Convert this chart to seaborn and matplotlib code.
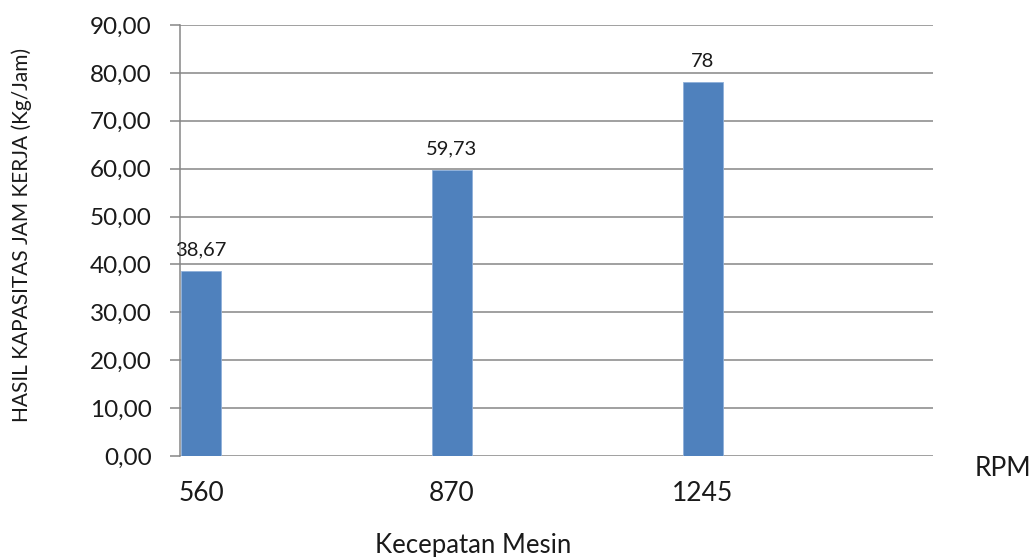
import pandas as pd
import seaborn as sns
import matplotlib
matplotlib.use("Agg")
import matplotlib.pyplot as plt
from matplotlib.ticker import FuncFormatter

# Data
speeds = ["560", "870", "1245"]
capacity = [38.67, 59.73, 78.0]
value_labels = ["38,67", "59,73", "78"]
y_ticks = [0, 10, 20, 30, 40, 50, 60, 70, 80, 90]

sns.set_theme(style="white")
plt.rcParams['font.family'] = ['Lato', 'DejaVu Sans']

W, H = 1034, 557
fig = plt.figure(figsize=(W / 100, H / 100), dpi=100)
ax = fig.add_axes([180 / W, 101 / H, 753 / W, 431 / H])

df = pd.DataFrame({"speed": speeds, "cap": capacity})
sns.barplot(data=df, x="speed", y="cap", order=speeds, color="#4F81BD",
            saturation=1, width=0.163, ax=ax, zorder=3,
            edgecolor="#8FB0DA", linewidth=0.6)

ax.set_xlim(-21 / 251, 732 / 251)
ax.set_ylim(0, 90)
ax.set_yticks(y_ticks)
ax.yaxis.set_major_formatter(FuncFormatter(lambda v, p: f"{v:.2f}".replace(".", ",")))

grid_c = "#868686"
ax.yaxis.grid(True, color=grid_c, lw=1.1, zorder=0)
ax.xaxis.grid(False)
ax.set_axisbelow(True)
for s in ["top", "right", "bottom"]:
    ax.spines[s].set_visible(False)
ax.spines["left"].set_color(grid_c)
ax.spines["left"].set_linewidth(1.1)

text_c = "#1a1a1a"
ax.tick_params(axis='y', left=True, length=7.2, width=1.1, color=grid_c,
               pad=13, labelsize=17.5, labelcolor=text_c)
ax.tick_params(axis='x', bottom=False, length=0, pad=18, labelsize=19, labelcolor=text_c)

ax.bar_label(ax.containers[0], labels=value_labels, padding=9, fontsize=14.5, color=text_c)

ax.set_ylabel("HASIL KAPASITAS JAM KERJA (Kg/Jam)", fontsize=15, color=text_c)
ax.yaxis.set_label_coords((22 - 180) / 753, (456 - 235) / 431)
ax.set_xlabel("Kecepatan Mesin", fontsize=18.5, color=text_c)
ax.xaxis.set_label_coords((473 - 180) / 753, (456 - 545) / 431)
ax.xaxis.label.set_va("center")
ax.yaxis.label.set_va("center")

fig.text(1003 / W, 1 - 468 / H, "RPM", fontsize=19, color=text_c, ha="center", va="center")

fig.savefig("out.png", dpi=100)
